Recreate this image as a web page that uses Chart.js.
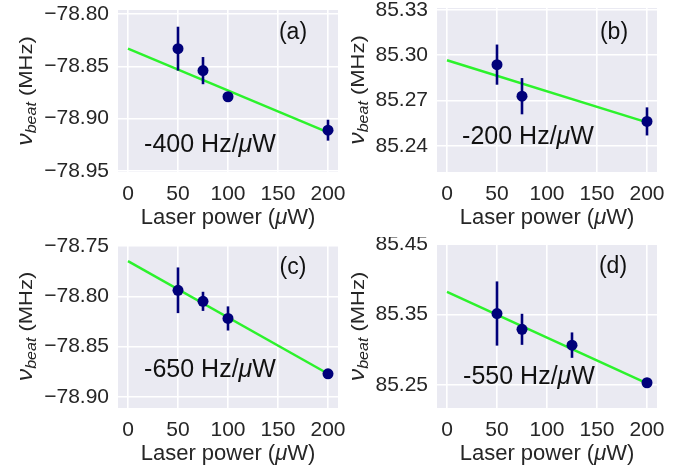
<!DOCTYPE html>
<html>
<head>
<meta charset="utf-8">
<script src="https://cdn.jsdelivr.net/npm/chart.js@4.4.1/dist/chart.umd.min.js"></script>
<style>
  body { margin: 0; background: #fff; }
  #wrap { position: relative; width: 685px; height: 474px; }
  canvas { position: absolute; }
</style>
</head>
<body>
<div id="wrap">
  <canvas id="chartA" width="362" height="237" style="left:0px;top:0px;width:362px;height:237px"></canvas>
  <canvas id="chartC" width="362" height="237" style="left:0px;top:237px;width:362px;height:237px"></canvas>
  <canvas id="chartB" width="343" height="237" style="left:342px;top:0px;width:343px;height:237px"></canvas>
  <canvas id="chartD" width="343" height="237" style="left:342px;top:237px;width:343px;height:237px"></canvas>
</div>
<script>
const powerTicks = [0, 50, 100, 150, 200];
const fitPower = [0, 200];

const powerA = [50, 75, 100, 200];
const beatA = [-78.833, -78.854, -78.879, -78.911];
const errA = [0.021, 0.013, 0.004, 0.010];
const fitA = [-78.833, -78.913];
const ticksA = [-78.80, -78.85, -78.90, -78.95];

const powerB = [50, 75, 200];
const beatB = [85.2938, 85.2729, 85.2562];
const errB = [0.0133, 0.012, 0.0093];
const fitB = [85.2967, 85.2556];
const ticksB = [85.24, 85.27, 85.30, 85.33];

const powerC = [50, 75, 100, 200];
const beatC = [-78.794, -78.805, -78.822, -78.877];
const errC = [0.0227, 0.0095, 0.012, 0.003];
const fitC = [-78.765, -78.877];
const ticksC = [-78.75, -78.80, -78.85, -78.90];

const powerD = [50, 75, 125, 200];
const beatD = [85.3514, 85.329, 85.3066, 85.2533];
const errD = [0.0455, 0.022, 0.018, 0.004];
const fitD = [85.382, 85.2524];
const ticksD = [85.25, 85.35, 85.45];

const slopeLabels = ['-400', '-200', '-650', '-550'];
const panelTags = ['(a)', '(b)', '(c)', '(d)'];

const FONT = "'Liberation Sans', Arial, sans-serif";
const TEXT = '#262626';

// draw a run of [text, font, dy] pieces centred on x
function drawPieces(ctx, pieces, x, y) {
    let total = 0;
    pieces.forEach(p => { ctx.font = p[1]; total += ctx.measureText(p[0]).width; });
    let cx = x - total / 2;
    pieces.forEach(p => {
        ctx.font = p[1];
        ctx.fillText(p[0], cx, y + (p[2] || 0));
        cx += ctx.measureText(p[0]).width;
    });
}

const panelPlugin = {
    id: 'panel',
    beforeDraw(chart) {
        const a = chart.chartArea;
        const ctx = chart.ctx;
        ctx.save();
        ctx.fillStyle = '#EAEAF2';
        ctx.fillRect(a.left, a.top, a.right - a.left, a.bottom - a.top);
        ctx.restore();
    },
    afterDatasetDraw(chart, args, opts) {
        // error bars go on top of the fit line, under the dots
        if (args.index !== 1) return;
        const xs = chart.scales.x, ys = chart.scales.y, ctx = chart.ctx;
        ctx.save();
        ctx.strokeStyle = '#00007a';
        ctx.lineWidth = 2.6;
        opts.power.forEach((p, i) => {
            const px = xs.getPixelForValue(p);
            ctx.beginPath();
            ctx.moveTo(px, ys.getPixelForValue(opts.beat[i] - opts.err[i]));
            ctx.lineTo(px, ys.getPixelForValue(opts.beat[i] + opts.err[i]));
            ctx.stroke();
        });
        ctx.restore();
    },
    afterDraw(chart, args, opts) {
        const a = chart.chartArea, ctx = chart.ctx;
        ctx.save();
        ctx.fillStyle = TEXT;
        ctx.textBaseline = 'middle';
        ctx.textAlign = 'left';
        // x title
        drawPieces(ctx, [
            ['Laser power (', '22px ' + FONT],
            ['\u03BC', 'italic 22px ' + FONT],
            ['W)', '22px ' + FONT]
        ], (a.left + a.right) / 2, a.bottom + 46);
        // slope annotation
        ctx.fillStyle = '#111';
        drawPieces(ctx, [
            [opts.slope + ' Hz/', '25px ' + FONT],
            ['\u03BC', 'italic 25px ' + FONT],
            ['W', '25px ' + FONT]
        ], opts.slopeAt[0], opts.slopeAt[1]);
        // panel tag
        drawPieces(ctx, [[opts.tag, '23px ' + FONT]], opts.tagAt[0], opts.tagAt[1]);
        // y title, rotated and slightly squashed like the original
        ctx.fillStyle = TEXT;
        ctx.translate(opts.yTitleX, (a.top + a.bottom) / 2);
        ctx.rotate(-Math.PI / 2);
        ctx.scale(1, 0.86);
        ctx.textBaseline = 'alphabetic';
        drawPieces(ctx, [
            ['\u03BD', 'italic 25px ' + FONT],
            ['beat', 'italic 16px ' + FONT, 5],
            [' (MHz)', '22px ' + FONT]
        ], 0, 0);
        ctx.restore();
    }
};

function makePanel(id, power, beat, err, fit, yTicks, yMin, yMax, box, extra) {
    const ctx = document.getElementById(id).getContext('2d');
    return new Chart(ctx, {
        type: 'scatter',
        data: {
            datasets: [
                {
                    data: power.map((p, i) => ({ x: p, y: beat[i] })),
                    backgroundColor: '#00007a',
                    borderWidth: 0,
                    pointRadius: 5.5,
                    order: 1
                },
                {
                    data: fitPower.map((p, i) => ({ x: p, y: fit[i] })),
                    showLine: true,
                    borderColor: '#2cf22c',
                    borderWidth: 2.4,
                    pointRadius: 0,
                    order: 2
                }
            ]
        },
        options: {
            responsive: false,
            animation: false,
            devicePixelRatio: 1,
            layout: { padding: { left: 0, right: box.right, top: box.top, bottom: 0 } },
            plugins: {
                legend: { display: false },
                tooltip: { enabled: false },
                panel: Object.assign({ power: power, beat: beat, err: err }, extra)
            },
            scales: {
                x: {
                    type: 'linear',
                    min: -10,
                    max: 210,
                    afterBuildTicks: s => { s.ticks = powerTicks.map(v => ({ value: v })); },
                    afterFit: s => { s.height = box.xh; s.paddingLeft = 0; s.paddingRight = 0; },
                    grid: { color: '#ffffff', lineWidth: 1.6, drawTicks: false },
                    border: { display: false },
                    ticks: { color: TEXT, padding: 10, maxRotation: 0, font: { family: FONT, size: 21 } }
                },
                y: {
                    type: 'linear',
                    min: yMin,
                    max: yMax,
                    afterBuildTicks: s => { s.ticks = yTicks.map(v => ({ value: v })); },
                    afterFit: s => { s.width = box.yw; s.paddingTop = 0; s.paddingBottom = 0; },
                    grid: { color: '#ffffff', lineWidth: 1.6, drawTicks: false },
                    border: { display: false },
                    ticks: {
                        color: TEXT,
                        padding: 9,
                        font: { family: FONT, size: 21 },
                        callback: v => v.toFixed(2).replace('-', '\u2212')
                    }
                }
            }
        },
        plugins: [panelPlugin]
    });
}

makePanel('chartA', powerA, beatA, errA, fitA, ticksA, -78.951, -78.796,
    { yw: 118, right: 24, top: 10, xh: 65 },
    { slope: slopeLabels[0], tag: panelTags[0], slopeAt: [210, 145], tagAt: [293, 33], yTitleX: 32 });
makePanel('chartC', powerC, beatC, errC, fitC, ticksC, -78.911, -78.749,
    { yw: 118, right: 24, top: 8, xh: 66 },
    { slope: slopeLabels[2], tag: panelTags[2], slopeAt: [210, 133], tagAt: [293, 31], yTitleX: 32 });
makePanel('chartB', powerB, beatB, errB, fitB, ticksB, 85.2227, 85.3313,
    { yw: 95, right: 28, top: 8, xh: 65 },
    { slope: slopeLabels[1], tag: panelTags[1], slopeAt: [186, 137], tagAt: [272, 33], yTitleX: 22 });
makePanel('chartD', powerD, beatD, errD, fitD, ticksD, 85.2175, 85.4485,
    { yw: 95, right: 28, top: 8, xh: 66 },
    { slope: slopeLabels[3], tag: panelTags[3], slopeAt: [187, 140], tagAt: [271, 30], yTitleX: 22 });
</script>
</body>
</html>
